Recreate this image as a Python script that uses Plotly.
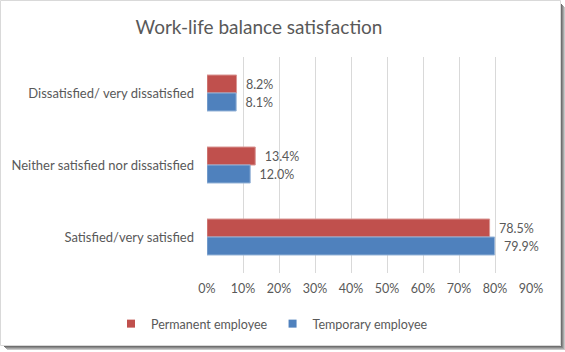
import plotly.graph_objects as go

categories = ["Dissatisfied/ very dissatisfied", "Neither satisfied nor dissatisfied", "Satisfied/very satisfied"]
permanent = [0.082, 0.134, 0.785]
temporary = [0.081, 0.120, 0.799]
series_names = ["Permanent employee", "Temporary employee"]
series_colors = ["#C0504D", "#4F81BD"]
edge_colors = ["#D99694", "#95B3D7"]
tick_vals = [0, 0.1, 0.2, 0.3, 0.4, 0.5, 0.6, 0.7, 0.8, 0.9]
tick_text = ["0%", "10%", "20%", "30%", "40%", "50%", "60%", "70%", "80%", "90%"]

W, H = 565, 352
L, R, T, B = 207, 531, 57, 273

FONT = "Lato, 'Liberation Sans', sans-serif"
GRAY = "#595959"

fig = go.Figure()
for name, vals, col, edge in zip(series_names, [permanent, temporary], series_colors, edge_colors):
    fig.add_trace(go.Bar(
        y=categories, x=vals, name=name, orientation="h", showlegend=False,
        marker=dict(color=col, line=dict(color=edge, width=1)),
        texttemplate="\u00a0\u00a0%{x:.1%}", textposition="outside",
        textfont=dict(family=FONT, size=12.5, color=GRAY), cliponaxis=False,
    ))
# legend entries with small square swatches
for name, col in zip(series_names, series_colors):
    fig.add_trace(go.Scatter(
        x=[None], y=[None], name=name, mode="markers",
        marker=dict(symbol="square", size=8, color=col),
    ))

def px_x(p):
    return (p - L) / (R - L)

def px_y(p):
    return (B - p) / (B - T)

shapes = [
    dict(type="rect", xref="paper", yref="paper",
         x0=px_x(0.5), x1=px_x(560.5), y0=px_y(0.5), y1=px_y(345.5),
         line=dict(color="#D9D9D9", width=1), fillcolor="rgba(0,0,0,0)", layer="below"),
]
shadow = [("#6E6E6E", 0), ("#8A8A8A", 1), ("#A8A8A8", 2), ("#C8C8C8", 3)]
for c, k in shadow:
    shapes.append(dict(type="rect", xref="paper", yref="paper",
                       x0=px_x(561 + k), x1=px_x(562 + k), y0=px_y(4 + k), y1=px_y(347 + k),
                       line=dict(width=0), fillcolor=c, layer="below"))
    shapes.append(dict(type="rect", xref="paper", yref="paper",
                       x0=px_x(4 + k), x1=px_x(562 + k), y0=px_y(346 + k), y1=px_y(347 + k),
                       line=dict(width=0), fillcolor=c, layer="below"))

fig.update_layout(
    width=W, height=H,
    margin=dict(l=L, r=W - R, t=T, b=H - B),
    paper_bgcolor="white", plot_bgcolor="white",
    barmode="group", bargap=0.5, bargroupgap=0,
    title=dict(text="Work-life balance satisfaction", x=259 / W, xanchor="center",
               y=1 - 27 / H, yanchor="middle",
               font=dict(family=FONT, size=19, color=GRAY)),
    font=dict(family=FONT, size=12, color=GRAY),
    showlegend=True,
    legend=dict(orientation="h", x=(272 - L) / (R - L), xanchor="center",
                y=px_y(324), yanchor="middle", font=dict(family=FONT, size=12.5, color=GRAY),
                itemwidth=30, bgcolor="rgba(0,0,0,0)"),
    shapes=shapes,
)
fig.update_xaxes(range=[0, 0.9], tickvals=tick_vals, ticktext=tick_text,
                 showgrid=True, gridcolor="#D9D9D9", gridwidth=1, zeroline=False,
                 showline=False, ticks="", ticklabelstandoff=6,
                 tickfont=dict(family=FONT, size=12.5, color=GRAY), fixedrange=True)
fig.update_yaxes(autorange="reversed", showgrid=False, zeroline=False, showline=False,
                 ticks="", ticklabelstandoff=12,
                 tickfont=dict(family=FONT, size=13, color=GRAY), fixedrange=True)

fig.write_html("out.html")
